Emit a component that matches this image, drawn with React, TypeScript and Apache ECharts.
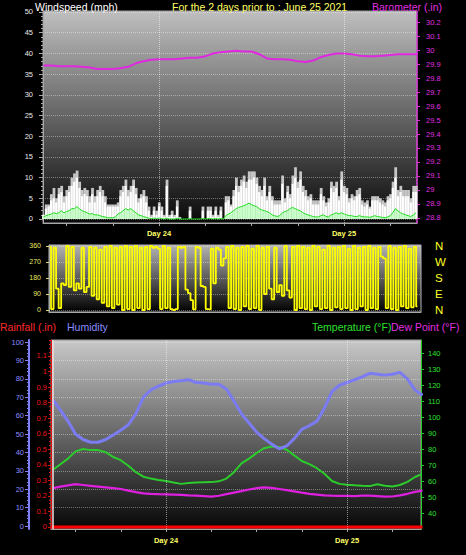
import React, { useEffect, useRef } from "react";
import * as echarts from "echarts";

// ---- time sampling (hours relative to 00:00 of Day 24) ----
const START_HOUR = -15;
const STEP_HOURS = 1 / 3; // 20-minute samples

// ---- windspeed panel (mph), 20-minute samples ----
const GUST = [
  1, 3.5, 3.5, 6, 7.5, 5, 7.5, 8, 5.5, 7,
  8, 10, 11, 11.7, 9, 7, 7.5, 7, 5.5, 7.5,
  5.5, 7, 8, 7, 5.5, 3.5, 3.5, 3.5, 3.5, 4,
  7, 8, 9.5, 7, 8, 9.5, 7.5, 5, 6, 7,
  5.5, 3, 1, 3, 2, 4, 3, 1, 9.5, 1,
  2, 1, 4.5, 0.5, 0, 0, 0, 3, 0, 0,
  0, 0, 3, 0, 3, 3, 1, 3, 1, 3,
  0, 5.5, 5.5, 3.5, 7, 10, 8, 9.5, 10.5, 9,
  11.5, 11.5, 11.5, 10, 8, 7, 10, 5.5, 8, 5.5,
  4.5, 4.5, 4.5, 10.5, 5, 8, 6, 10.5, 12.5, 9,
  11.5, 8, 7, 5.5, 6, 4.5, 4.5, 4.5, 7.5, 5.5,
  4, 5, 9, 8, 9, 5.5, 11.5, 8, 7.5, 5,
  6, 5.5, 7, 7.5, 4.5, 4, 4.5, 3, 5.5, 5.5,
  5.5, 5, 4.5, 4, 5.5, 6, 9, 12.5, 7, 8,
  7, 7, 7, 5, 8, 8,
];
const SPEED = [
  1, 2.5, 3, 4.5, 5, 4, 6, 6.5, 4, 5.5,
  6.5, 8, 9, 10, 7.5, 5.5, 6, 5.5, 4, 6,
  4, 5.5, 6.5, 5.5, 4, 3, 3, 3, 3, 3,
  5.5, 6.5, 8, 5.5, 6.5, 8, 6, 4, 5, 5.5,
  4, 2, 0.5, 2, 1, 3, 2, 0.5, 8, 0.5,
  1, 0.5, 3, 0, 0, 0, 0, 2, 0, 0,
  0, 0, 2, 0, 2, 2, 0.5, 2, 0.5, 2,
  0, 4, 4.5, 3, 5.5, 8, 6.5, 8, 9, 7.5,
  9.5, 9.5, 10, 8.5, 6.5, 5.5, 8, 4.5, 6.5, 4.5,
  3.5, 3.5, 3.5, 8.5, 4, 6.5, 5, 8.5, 10, 7.5,
  9.5, 6.5, 5.5, 4.5, 5, 3.5, 3.5, 3.5, 6, 4.5,
  3, 4, 7.5, 6.5, 7.5, 4.5, 9.5, 6.5, 6, 4,
  5, 4.5, 5.5, 6, 3.5, 3, 3.5, 2.5, 4.5, 4.5,
  4.5, 4, 3.5, 3, 4.5, 5, 7.5, 10, 5.5, 6.5,
  5.5, 5.5, 5.5, 4, 6.5, 6.5,
];
const AVERAGE = [
  0.5, 0.8, 1, 1.2, 1.5, 1.3, 1.5, 2, 1.5, 1.8,
  2, 2.5, 2.5, 3, 2.5, 2, 1.8, 1.5, 1.2, 1.3,
  1, 1, 0.8, 0.6, 0.5, 0.3, 0.3, 0.3, 0.5, 1.2,
  1.5, 2, 2.5, 2.2, 2.5, 2, 1.5, 1, 0.8, 0.6,
  0.4, 0.2, 0.1, 0.2, 0.1, 0.2, 0.1, 0, 0.2, 0,
  0, 0, 0.2, 0, 0, 0, 0, 0.1, 0, 0,
  0, 0, 0.1, 0, 0.1, 0.1, 0, 0.1, 0, 0.1,
  0, 0.8, 1.2, 1.5, 2, 2.5, 2.8, 3, 3.2, 3.5,
  3.8, 3.5, 3.2, 3, 2.5, 2.2, 2, 1.8, 1.5, 1,
  0.8, 0.6, 0.8, 1.5, 1.8, 2, 2.5, 2.8, 2.5, 2.2,
  2, 1.5, 1.2, 1, 0.8, 0.6, 0.5, 0.5, 0.8, 1,
  0.6, 0.5, 1, 1.2, 1.5, 1.2, 1.5, 1.2, 1, 0.8,
  0.8, 0.6, 0.6, 0.8, 0.6, 0.5, 0.5, 0.4, 0.6, 0.8,
  0.6, 0.5, 0.4, 0.3, 0.5, 0.8, 1.5, 2.5, 2, 1.5,
  1.2, 1, 0.8, 0.6, 1, 1.5,
];

// ---- wind direction (degrees), 20-minute samples ----
const DIRECTION = [
  355, 5, 350, 120, 10, 150, 140, 360, 130, 355,
  110, 150, 120, 350, 100, 130, 355, 80, 350, 60,
  340, 40, 355, 20, 360, 10, 350, 30, 355, 0,
  360, 5, 355, 0, 360, 10, 350, 0, 355, 5,
  360, 350, 355, 345, 5, 360, 10, 350, 5, 0,
  5, 355, 350, 355, 115, 95, 55, 3, 355, 350,
  135, 130, 5, 3, 345, 150, 350, 340, 250, 290,
  355, 10, 360, 5, 350, 0, 355, 20, 360, 5,
  345, 10, 360, 0, 350, 90, 355, 120, 60, 350,
  100, 140, 80, 360, 110, 70, 355, 0, 360, 10,
  355, 5, 350, 0, 360, 20, 355, 5, 340, 10,
  360, 0, 350, 15, 355, 5, 360, 10, 345, 0,
  360, 5, 350, 20, 355, 0, 360, 10, 350, 5,
  355, 300, 290, 10, 360, 5, 350, 0, 355, 20,
  360, 10, 345, 15, 355, 20,
];

// ---- hourly series ----
const HOURS = [
  -15, -14, -13, -12, -11, -10, -9, -8, -7, -6,
  -5, -4, -3, -2, -1, 0, 1, 2, 3, 4,
  5, 6, 7, 8, 9, 10, 11, 12, 13, 14,
  15, 16, 17, 18, 19, 20, 21, 22, 23, 24,
  25, 26, 27, 28, 29, 30, 31, 32, 33, 34,
];
const BAROMETER = [
  29.89, 29.89, 29.885, 29.885, 29.885, 29.88, 29.875, 29.865, 29.865, 29.865,
  29.87, 29.88, 29.905, 29.92, 29.93, 29.935, 29.935, 29.935, 29.94, 29.945,
  29.945, 29.955, 29.975, 29.985, 29.99, 29.995, 29.99, 29.99, 29.97, 29.94,
  29.935, 29.935, 29.93, 29.92, 29.915, 29.925, 29.95, 29.965, 29.975, 29.975,
  29.97, 29.96, 29.955, 29.955, 29.96, 29.965, 29.97, 29.97, 29.97, 29.97,
];
const HUMIDITY = [
  68.5, 63, 57, 50, 47, 45.5, 45.5, 47, 49.5, 52,
  55, 61, 70, 74, 76, 77.7, 78.5, 79, 79.5, 78,
  77.7, 77, 77, 74.5, 68, 61, 56, 51, 47.5, 44.5,
  42, 43.5, 47.5, 52.5, 54.5, 57, 64, 73, 76.5, 78,
  79.5, 81, 83, 82.5, 82, 82.5, 83.5, 80, 74, 71,
];
const TEMPERATURE = [
  67, 70.5, 74, 78.5, 80, 79.3, 79.3, 78, 75, 73,
  69.5, 65.5, 62.7, 61.5, 60.6, 60, 59, 58.2, 58.8, 59,
  59.2, 59.3, 59.8, 61.5, 65.5, 71, 74, 77.5, 80.5, 81.5,
  81.3, 79.5, 76, 72.5, 70.5, 68, 64.5, 60, 58.2, 57.7,
  57.3, 57, 56.8, 58, 57, 56.5, 57.5, 59.5, 62.5, 64.5,
];
const DEW_POINT = [
  55.5, 56.5, 57.3, 58, 57.5, 57, 56.5, 56, 55.5, 55,
  54, 53, 52.3, 52, 51.8, 51.7, 51.5, 51.3, 51, 50.8,
  50.5, 50.2, 50.8, 51.8, 52.7, 53.7, 54.7, 55.5, 56, 55.7,
  55, 54.3, 53.5, 52.7, 52, 51.5, 51, 50.8, 50.7, 50.7,
  50.6, 50.8, 50.8, 50.5, 50.2, 50.3, 51, 52, 53.2, 54,
];
const RAIN_HOURS = [-15.3, 34];
const RAINFALL = [0, 0];

// ---- tick labels ----
const DAY_TICKS = [0, 24];
const DAY_LABELS = ["Day 24", "Day 25"];
const TIME_TICKS = [-12, -6, 0, 6, 12, 18, 24, 30];
const WIND_TICKS = [0, 5, 10, 15, 20, 25, 30, 35, 40, 45, 50];
const BARO_TICKS = [28.8, 28.9, 29, 29.1, 29.2, 29.3, 29.4, 29.5, 29.6, 29.7, 29.8, 29.9, 30, 30.1, 30.2];
const DIR_TICKS = [0, 90, 180, 270, 360];
const COMPASS = ["N", "E", "S", "W", "N"];
const HUM_TICKS = [0, 10, 20, 30, 40, 50, 60, 70, 80, 90, 100];
const RAIN_TICKS = [0, 0.1, 0.2, 0.3, 0.4, 0.5, 0.6, 0.7, 0.8, 0.9, 1, 1.1];
const TEMP_TICKS = [40, 50, 60, 70, 80, 90, 100, 110, 120, 130, 140];

const FONT = "Liberation Sans, Arial, sans-serif";

const minorTicks = (from: number, to: number, step: number) => {
  const out: number[] = [];
  for (let v = from; v <= to + 1e-9; v += step) out.push(Math.round(v * 1000) / 1000);
  return out;
};

const grad = (top: string, bottom: string) => ({
  type: "linear",
  x: 0,
  y: 0,
  x2: 0,
  y2: 1,
  colorStops: [
    { offset: 0, color: top },
    { offset: 1, color: bottom },
  ],
});

function buildOption() {
  const sampleHours = DIRECTION.map((_, i) => START_HOUR + i * STEP_HOURS);
  const pairs = (xs: number[], ys: number[]) => ys.map((v, i) => [xs[i], v]);
  const dayFormatter = (v: number) => {
    const k = DAY_TICKS.indexOf(Math.round(v));
    return k >= 0 ? DAY_LABELS[k] : "";
  };
  const gray = "#a8a8a8";
  const dotted = { color: "rgba(255,255,255,0.38)", type: "dotted", width: 1 };
  const noZero = (o: any) => ({ ...o, onZero: false });

  const text = (t: string, x: number, y: number, fill: string) => ({
    type: "text",
    x,
    y,
    silent: true,
    style: { text: t, fill, fontSize: 10.5, fontFamily: FONT, align: "left", verticalAlign: "middle" },
  });

  return {
    animation: false,
    backgroundColor: "#000000",
    graphic: [
      text("Windspeed (mph)", 35, 6.5, "#ffffff"),
      text("For the 2 days prior to : June 25 2021", 172, 6.5, "#ffff66"),
      text("Barometer (.in)", 372, 6.5, "#e030e0"),
      text("Rainfall (.in)", 0, 327, "#ff2a2a"),
      text("Humidity", 67, 327, "#8c8cff"),
      text("Temperature (\u00b0F)", 312, 327, "#2ee02e"),
      text("Dew Point (\u00b0F)", 391, 327, "#e030e0"),
    ],
    grid: [
      { left: 43, top: 11, width: 374, height: 212, show: true, backgroundColor: grad("#bfbfbf", "#080808"), borderColor: "#9c9c9c", borderWidth: 1 },
      { left: 49, top: 245, width: 372, height: 67, show: true, backgroundColor: grad("#b4b4b4", "#000000"), borderColor: "#b8b8b8", borderWidth: 1 },
      { left: 51, top: 340, width: 370, height: 189, show: true, backgroundColor: grad("#c8c8c8", "#060606"), borderColor: "#9c9c9c", borderWidth: 1 },
    ],
    xAxis: [
      {
        type: "value", gridIndex: 0, min: -15.05, max: 33.47,
        axisLine: noZero({ show: true, lineStyle: { color: gray } }),
        axisTick: { show: true, customValues: TIME_TICKS, length: 3, lineStyle: { color: gray } },
        axisLabel: { show: true, customValues: DAY_TICKS, formatter: dayFormatter, color: "#ffff66", fontSize: 7.5, fontWeight: "bold", fontFamily: FONT, margin: 6 },
        splitLine: { show: false },
      },
      {
        type: "value", gridIndex: 1, min: -15.1, max: 33.8,
        axisLine: noZero({ show: true, lineStyle: { color: gray } }),
        axisTick: { show: false },
        axisLabel: { show: false },
        splitLine: { show: false },
      },
      {
        type: "value", gridIndex: 2, min: -15.25, max: 33.8,
        axisLine: noZero({ show: true, lineStyle: { color: gray } }),
        axisTick: { show: true, customValues: TIME_TICKS, length: 3, lineStyle: { color: gray } },
        axisLabel: { show: true, customValues: DAY_TICKS, formatter: dayFormatter, color: "#ffff66", fontSize: 7.5, fontWeight: "bold", fontFamily: FONT, margin: 7 },
        splitLine: { show: false },
      },
    ],
    yAxis: [
      {
        type: "value", gridIndex: 0, position: "left", min: -0.97, max: 50.24,
        axisLine: noZero({ show: true, lineStyle: { color: gray } }),
        axisTick: { show: true, customValues: WIND_TICKS, length: 4, lineStyle: { color: gray } },
        axisLabel: { show: true, customValues: WIND_TICKS, color: "#e8e8e8", fontSize: 7.5, fontFamily: FONT, margin: 10 },
        splitLine: { show: true, lineStyle: dotted },
      },
      {
        type: "value", gridIndex: 0, position: "left", min: -0.97, max: 50.24,
        axisLine: noZero({ show: false }),
        axisTick: { show: true, customValues: minorTicks(0, 50, 1), length: 2, lineStyle: { color: gray } },
        axisLabel: { show: false },
        splitLine: { show: false },
      },
      {
        type: "value", gridIndex: 0, position: "right", min: 28.764, max: 30.279,
        axisLine: noZero({ show: true, lineStyle: { color: "#e030e0", type: "dotted", width: 1.5 } }),
        axisTick: { show: true, customValues: BARO_TICKS, length: 3, lineStyle: { color: "#e030e0" } },
        axisLabel: { show: true, customValues: BARO_TICKS, formatter: (v: number) => String(Math.round(v * 10) / 10), color: "#e030e0", fontSize: 7.5, fontFamily: FONT, margin: 9 },
        splitLine: { show: false },
      },
      {
        type: "value", gridIndex: 1, position: "left", min: -11.25, max: 365.6,
        axisLine: noZero({ show: true, lineStyle: { color: gray } }),
        axisTick: { show: true, customValues: DIR_TICKS, length: 3, lineStyle: { color: "#d8d860" } },
        axisLabel: { show: true, customValues: DIR_TICKS, color: "#e8e860", fontSize: 7, fontFamily: FONT, margin: 8 },
        splitLine: { show: true, lineStyle: dotted },
      },
      {
        type: "value", gridIndex: 1, position: "right", min: -11.25, max: 365.6,
        axisLine: noZero({ show: false }),
        axisTick: { show: false, customValues: DIR_TICKS },
        axisLabel: { show: true, customValues: DIR_TICKS, formatter: (v: number) => COMPASS[DIR_TICKS.indexOf(Math.round(v))] || "", color: "#ffff22", fontSize: 11.5, fontFamily: FONT, margin: 14 },
        splitLine: { show: false },
      },
      {
        type: "value", gridIndex: 2, position: "left", offset: 22, min: -1.63, max: 101.09,
        axisLine: noZero({ show: true, lineStyle: { color: "#7f7ff5", width: 2 } }),
        axisTick: { show: true, customValues: HUM_TICKS, length: 4, lineStyle: { color: "#7f7ff5" } },
        axisLabel: { show: true, customValues: HUM_TICKS, color: "#8c8cff", fontSize: 7.5, fontFamily: FONT, margin: 5 },
        splitLine: { show: true, lineStyle: dotted },
      },
      {
        type: "value", gridIndex: 2, position: "left", offset: 22, min: -1.63, max: 101.09,
        axisLine: noZero({ show: false }),
        axisTick: { show: true, customValues: minorTicks(0, 100, 2), length: 2, lineStyle: { color: "#7f7ff5" } },
        axisLabel: { show: false },
        splitLine: { show: false },
      },
      {
        type: "value", gridIndex: 2, position: "left", offset: 0, min: -0.0129, max: 1.2029,
        axisLine: noZero({ show: true, lineStyle: { color: "#dd1010" } }),
        axisTick: { show: true, customValues: RAIN_TICKS, length: 3, lineStyle: { color: "#dd1010" } },
        axisLabel: { show: true, customValues: RAIN_TICKS, formatter: (v: number) => String(Math.round(v * 10) / 10), color: "#ee1515", fontSize: 7.5, fontFamily: FONT, margin: 4 },
        splitLine: { show: false },
      },
      {
        type: "value", gridIndex: 2, position: "left", offset: 0, min: -0.0129, max: 1.2029,
        axisLine: noZero({ show: false }),
        axisTick: { show: true, customValues: minorTicks(0, 1.2, 0.025), length: 2, lineStyle: { color: "#dd1010" } },
        axisLabel: { show: false },
        splitLine: { show: false },
      },
      {
        type: "value", gridIndex: 2, position: "right", min: 30, max: 148.125,
        axisLine: noZero({ show: true, lineStyle: { color: "#22cc22" } }),
        axisTick: { show: true, customValues: TEMP_TICKS, length: 3, lineStyle: { color: "#22cc22" } },
        axisLabel: { show: true, customValues: TEMP_TICKS, color: "#2ee02e", fontSize: 7.5, fontFamily: FONT, margin: 7 },
        splitLine: { show: false },
      },
    ],
    series: [
      {
        name: "Gust", type: "bar", xAxisIndex: 0, yAxisIndex: 0, barWidth: 2.8, barGap: "-100%",
        itemStyle: { color: "#c6c6c6" }, data: pairs(sampleHours, GUST), silent: true,
        markLine: {
          silent: true, symbol: ["none", "none"], label: { show: false },
          lineStyle: { color: "rgba(255,255,255,0.5)", type: "dotted", width: 1 },
          data: DAY_TICKS.map((d) => ({ xAxis: d })),
        },
      },
      {
        name: "Wind", type: "bar", xAxisIndex: 0, yAxisIndex: 0, barWidth: 2.2, barGap: "-100%",
        itemStyle: { color: "#ffffff" }, data: pairs(sampleHours, SPEED), silent: true,
      },
      {
        name: "Average", type: "line", xAxisIndex: 0, yAxisIndex: 0, symbol: "none",
        lineStyle: { color: "#22dd22", width: 1 }, areaStyle: { color: "rgba(140,255,140,0.65)" },
        data: pairs(sampleHours, AVERAGE), silent: true,
      },
      {
        name: "Barometer", type: "line", xAxisIndex: 0, yAxisIndex: 2, symbol: "none",
        lineStyle: { color: "#e028e0", width: 2 }, data: pairs(HOURS, BAROMETER), silent: true,
      },
      {
        name: "Direction", type: "line", xAxisIndex: 1, yAxisIndex: 3, symbol: "none", step: "middle",
        lineStyle: { color: "#ffff00", width: 1.8 }, data: pairs(sampleHours, DIRECTION), silent: true,
      },
      {
        name: "Temperature", type: "line", xAxisIndex: 2, yAxisIndex: 9, symbol: "none",
        lineStyle: { color: "#2ccc2c", width: 2 }, data: pairs(HOURS, TEMPERATURE), silent: true,
      },
      {
        name: "Dew Point", type: "line", xAxisIndex: 2, yAxisIndex: 9, symbol: "none",
        lineStyle: { color: "#e020e0", width: 2.2 }, data: pairs(HOURS, DEW_POINT), silent: true,
      },
      {
        name: "Humidity", type: "line", xAxisIndex: 2, yAxisIndex: 5, symbol: "none",
        lineStyle: { color: "#7b7bf2", width: 3 }, data: pairs(HOURS, HUMIDITY), silent: true,
        markLine: {
          silent: true, symbol: ["none", "none"], label: { show: false },
          lineStyle: { color: "rgba(255,255,255,0.5)", type: "dotted", width: 1 },
          data: DAY_TICKS.map((d) => ({ xAxis: d })),
        },
      },
      {
        name: "Rainfall", type: "line", xAxisIndex: 2, yAxisIndex: 7, symbol: "none",
        lineStyle: { color: "#ff0000", width: 3 }, data: pairs(RAIN_HOURS, RAINFALL), silent: true,
        markLine: {
          silent: true, symbol: ["none", "none"], label: { show: false },
          lineStyle: { color: "#eedede", type: "solid", width: 1.5 },
          data: [{ xAxis: -15.0 }],
        },
      },
    ],
  };
}

export default function App() {
  const ref = useRef<HTMLDivElement>(null);
  useEffect(() => {
    document.body.style.margin = "0";
    document.body.style.background = "#000";
    if (!ref.current) return;
    const chart = echarts.init(ref.current, undefined, { renderer: "svg" });
    chart.setOption(buildOption() as any);
    return () => chart.dispose();
  }, []);
  return (
    <div
      ref={ref}
      style={{ position: "absolute", left: 0, top: 0, width: 466, height: 555, background: "#000" }}
    />
  );
}
